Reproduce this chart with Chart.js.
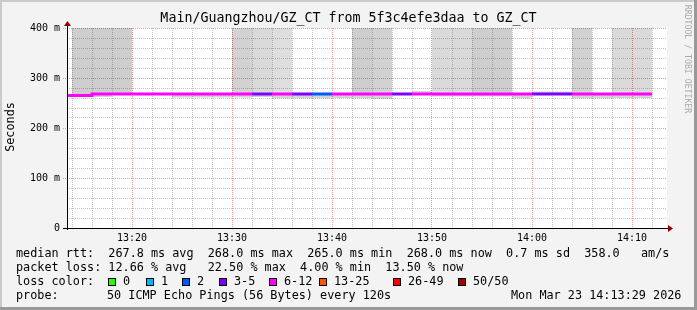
<!DOCTYPE html>
<html>
<head>
<meta charset="utf-8">
<title>Main/Guangzhou/GZ_CT</title>
<script src="https://cdn.jsdelivr.net/npm/chart.js@4.4.1/dist/chart.umd.min.js"></script>
<style>
  html, body { margin: 0; padding: 0; background: #f3f3f3; }
  canvas { display: block; }
</style>
</head>
<body>
<canvas id="smoke" width="697" height="310"></canvas>
<script>
// one entry per 120 s step, keyed by step start
const stepStarts = ['13:12', '13:14', '13:16', '13:18', '13:20', '13:22', '13:24', '13:26', '13:28', '13:30',
                    '13:32', '13:34', '13:36', '13:38', '13:40', '13:42', '13:44', '13:46', '13:48', '13:50',
                    '13:52', '13:54', '13:56', '13:58', '14:00', '14:02', '14:04', '14:06', '14:08', '14:10'];
const stepEnd = '14:12';
const viewFrom = '13:13:30';
const viewTo = '14:13:30';

const medianRtt = [265, 265, 268, 268, 268, 268, 268, 268, 268, 268,
                   268, 268, 268, 268, 268, 268, 268, 268, 268, 268,
                   268, 268, 268, 268, 268, 268, 268, 268, 268, 268];
// lost pings out of 50
const lostPings = [7, 7, 8, 7, 6, 7, 6, 7, 8, 6,
                   4, 7, 4, 2, 6, 7, 8, 3, 7, 9,
                   8, 7, 8, 6, 4, 5, 7, 6, 8, 7];
// spread of the answered pings around the median (ms)
const smokeLow  = [265, 264, 262, 266, 267, 267, 261, 261, 261, 261,
                   262, 259, 259, 259, 260, 259, 258, 266, 266, 263,
                   263, 263, 263, 259, 266, 266, 259, 259, 260, 260];
const smokeHigh = [265, 268, 270, 270, 269, 269, 269, 269, 269, 270,
                   270, 270, 269, 269, 269, 270, 270, 269, 274, 270,
                   270, 270, 270, 269, 273, 273, 270, 269, 270, 270];
// pings slower than the 400 ms top of the graph
const slowPings = [0, 6, 6, 6, 0, 0, 0, 0, 0, 5,
                   3, 2, 0, 0, 0, 6, 5, 0, 0, 3,
                   3, 6, 6, 0, 0, 0, 5, 0, 3, 3];
const slowMax   = [null, 900, 900, 800, null, null, null, null, null, 700,
                   600, 550, null, null, null, 800, 750, null, null, 650,
                   600, 850, 800, null, null, null, 700, null, 650, 600];

const rttTickLabels = ['0', '100 m', '200 m', '300 m', '400 m'];
const timeTickLabels = ['13:20', '13:30', '13:40', '13:50', '14:00', '14:10'];

const lossLabels = ['0', '1', '2', '3-5', '6-12', '13-25', '26-49', '50/50'];
const lossUpper  = [0, 1, 2, 5, 12, 25, 49, 50];
const lossColors = ['#26ff00', '#00b8ff', '#0059ff', '#7e00ff', '#ff00ff', '#ff5500', '#ff0000', '#a00000'];

const title = 'Main/Guangzhou/GZ_CT from 5f3c4efe3daa to GZ_CT';
const rttLine  = 'median rtt:  267.8 ms avg  268.0 ms max  265.0 ms min  268.0 ms now  0.7 ms sd  358.0   am/s';
const lossLine = 'packet loss: 12.66 % avg   22.50 % max  4.00 % min  13.50 % now';
const probeText = '50 ICMP Echo Pings (56 Bytes) every 120s';
const stampText = 'Mon Mar 23 14:13:29 2026';

function toMin(t) {
  const p = t.split(':').map(Number);
  return p[0] * 60 + p[1] + (p[2] || 0) / 60;
}
function fmtMin(m) {
  return String(Math.floor(m / 60)).padStart(2, '0') + ':' + String(Math.round(m % 60)).padStart(2, '0');
}
function lossColor(n) {
  return lossColors[lossUpper.findIndex(u => n <= u)];
}

const mono = '"DejaVu Sans Mono", monospace';
const minorGrid = 'rgba(140,140,140,0.5)';
const majorGrid = 'rgba(225,70,70,0.55)';

// smoke bars sit in the middle of each step
const coreData = [];
stepStarts.forEach((t, i) => {
  if (smokeHigh[i] > smokeLow[i]) coreData.push({x: toMin(t) + 1, y: [smokeLow[i], smokeHigh[i]]});
});
const slowData = [], slowColors = [];
stepStarts.forEach((t, i) => {
  if (slowPings[i] > 0) {
    slowData.push({x: toMin(t) + 1, y: [smokeHigh[i], slowMax[i]]});
    const level = 230 - 4 * slowPings[i];
    slowColors.push('rgba(0,0,0,' + (1 - level / 255).toFixed(3) + ')');
  }
});
const medianData = stepStarts.map((t, i) => ({x: toMin(t), y: medianRtt[i]}));
medianData.push({x: toMin(stepEnd), y: medianRtt[medianRtt.length - 1]});

const framePlugin = {
  id: 'frame',
  beforeDraw(chart) {
    const {ctx, width, height, chartArea: a} = chart;
    ctx.save();
    ctx.fillStyle = '#f3f3f3';
    ctx.fillRect(0, 0, width, height);
    ctx.fillStyle = '#cbcbcb';
    ctx.fillRect(0, 0, width, 2);
    ctx.fillRect(0, 0, 2, height);
    ctx.fillStyle = '#999999';
    ctx.fillRect(0, height - 3, width, 3);
    ctx.fillRect(width - 3, 0, 3, height);
    ctx.fillStyle = '#ffffff';
    ctx.fillRect(a.left, a.top, a.right - a.left, a.bottom - a.top);
    ctx.restore();
  },
  afterDraw(chart) {
    const {ctx, chartArea: a} = chart;
    ctx.save();
    // axes with arrows
    ctx.strokeStyle = '#000';
    ctx.lineWidth = 1;
    ctx.beginPath();
    ctx.moveTo(a.left + 0.5, a.bottom + 2);
    ctx.lineTo(a.left + 0.5, a.top - 4);
    ctx.moveTo(a.left - 4, a.bottom + 0.5);
    ctx.lineTo(a.right + 2, a.bottom + 0.5);
    ctx.stroke();
    ctx.fillStyle = '#900000';
    ctx.beginPath();
    ctx.moveTo(a.left - 3, a.top - 2);
    ctx.lineTo(a.left + 4, a.top - 2);
    ctx.lineTo(a.left + 0.5, a.top - 7);
    ctx.closePath();
    ctx.fill();
    ctx.beginPath();
    ctx.moveTo(a.right + 1, a.bottom - 3);
    ctx.lineTo(a.right + 1, a.bottom + 4);
    ctx.lineTo(a.right + 6, a.bottom + 0.5);
    ctx.closePath();
    ctx.fill();

    // title and axis label
    ctx.fillStyle = '#000';
    ctx.textBaseline = 'middle';
    ctx.textAlign = 'center';
    ctx.font = '13.3px ' + mono;
    ctx.fillText(title, 348.5, 19);
    ctx.font = '11.8px ' + mono;
    ctx.save();
    ctx.translate(11, 127);
    ctx.rotate(-Math.PI / 2);
    ctx.fillText('Seconds', 0, 0);
    ctx.restore();
    ctx.save();
    ctx.fillStyle = '#aaaaaa';
    ctx.font = '8.2px ' + mono;
    ctx.translate(687, 59);
    ctx.rotate(Math.PI / 2);
    ctx.fillText('RRDTOOL / TOBI OETIKER', 0, 0);
    ctx.restore();

    // legend block
    ctx.textAlign = 'left';
    ctx.fillText(rttLine, 16, 254);
    ctx.fillText(lossLine, 16, 268);
    ctx.fillText('loss color:', 16, 282);
    const boxX = [108, 146, 182, 219, 269, 319, 393, 458];
    lossLabels.forEach((lab, i) => {
      ctx.fillStyle = '#000';
      ctx.fillRect(boxX[i], 278, 8, 8);
      ctx.fillStyle = lossColors[i];
      ctx.fillRect(boxX[i] + 1, 279, 6, 6);
      ctx.fillStyle = '#000';
      ctx.fillText(lab, boxX[i] + 15, 282);
    });
    ctx.fillText('probe:', 16, 296);
    ctx.fillText(probeText, 107, 296);
    ctx.fillText(stampText, 511, 296);
    ctx.restore();
  }
};

Chart.defaults.font.family = mono;
Chart.defaults.color = '#000';

new Chart(document.getElementById('smoke'), {
  type: 'bar',
  data: {
    datasets: [{
      type: 'line',
      data: medianData,
      stepped: true,
      borderWidth: 3,
      borderColor: lossColors[4],
      segment: { borderColor: c => lossColor(lostPings[c.p0DataIndex]) },
      pointRadius: 0,
      clip: 0,
      order: 0
    }, {
      data: slowData,
      backgroundColor: slowColors,
      order: 1
    }, {
      data: coreData,
      backgroundColor: 'rgba(0,0,0,0.17)',
      order: 2
    }]
  },
  options: {
    responsive: false,
    animation: false,
    devicePixelRatio: 1,
    layout: { padding: {left: 0, top: 28, right: 30, bottom: 62} },
    datasets: {
      bar: { grouped: false, barPercentage: 1, categoryPercentage: 1, inflateAmount: 0, borderWidth: 0 }
    },
    plugins: { legend: { display: false }, tooltip: { enabled: false } },
    scales: {
      x: {
        type: 'linear',
        min: toMin(viewFrom),
        max: toMin(viewTo),
        offset: false,
        afterFit: s => { s.height = 20; },
        afterBuildTicks: s => {
          const ticks = [];
          for (let i = 1; i < stepStarts.length; i++) ticks.push({value: toMin(stepStarts[i])});
          ticks.push({value: toMin(stepEnd)});
          s.ticks = ticks;
        },
        grid: {
          offset: false,
          drawTicks: false,
          color: c => c.tick && c.tick.value % 10 === 0 ? majorGrid : minorGrid
        },
        border: { display: false, dash: [1, 1] },
        ticks: {
          autoSkip: false,
          maxRotation: 0,
          padding: 4,
          font: { size: 10 },
          callback: v => timeTickLabels.includes(fmtMin(v)) ? fmtMin(v) : ''
        }
      },
      y: {
        min: 0,
        max: 400,
        afterFit: s => { s.width = 67; },
        grid: {
          tickLength: 4,
          color: c => c.tick && c.tick.value % 100 === 0 ? majorGrid : minorGrid,
          tickColor: c => c.tick && c.tick.value % 100 === 0 ? majorGrid : 'rgba(0,0,0,0)',
          tickBorderDash: [1, 1]
        },
        border: { display: false, dash: [1, 1] },
        ticks: {
          stepSize: 20,
          autoSkip: false,
          padding: 3,
          font: { size: 10 },
          callback: v => v % 100 === 0 ? rttTickLabels[v / 100] : ''
        }
      }
    }
  },
  plugins: [framePlugin]
});
</script>
</body>
</html>
